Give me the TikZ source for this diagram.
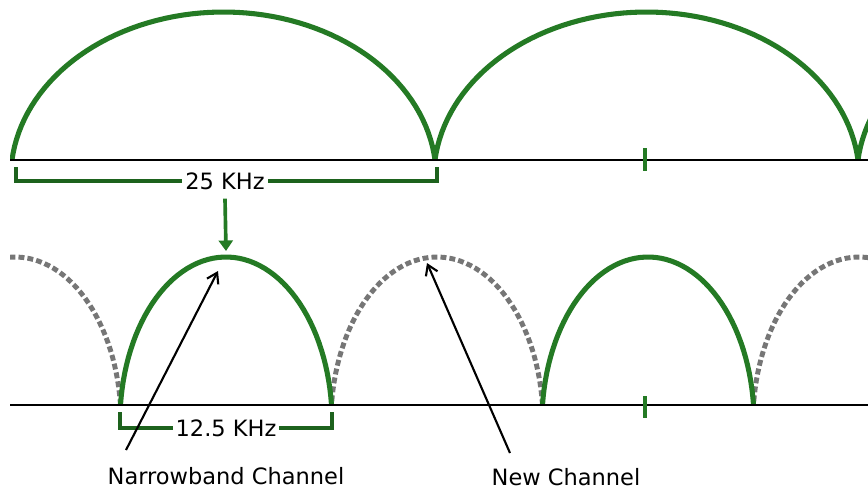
\documentclass[tikz,border=0pt]{standalone}
\usepackage{fontspec}
\setmainfont{DejaVu Sans}
\usepackage{xcolor}
\usetikzlibrary{arrows.meta}
\definecolor{chgreen}{RGB}{36,122,36}
\definecolor{chgrey}{RGB}{118,118,118}
\tikzset{
  chan/.style={chgreen,line width=3.6pt},
  oldchan/.style={chgrey,line width=3.5pt,dash pattern=on 4.2pt off 2.2pt},
  axisline/.style={black,line width=1.4pt},
  bracket/.style={chgreen!80!black,line width=2.2pt},
  lbl/.style={font=\fontsize{16}{18}\selectfont,inner sep=2pt},
  pointer/.style={line width=1.5pt,-{Straight Barb[length=7pt,width=9pt]}},
}

\begin{document}
\begin{tikzpicture}[x=0.025cm,y=-0.025cm]
  \useasboundingbox (0,0) rectangle (868,489);
  \begin{scope}
    \clip (10,0) rectangle (868,489);
    \foreach \c in {223.5,646.5,1069.5}{
      \draw[chan] plot[domain=6:174,samples=70] ({\c+212.7*cos(\x)},{177.3-165.3*sin(\x)});
    }
    \foreach \c in {15,437,859}{
      \draw[oldchan] plot[domain=6:174,samples=60] ({\c+106.1*cos(\x)},{422.3-165.3*sin(\x)});
    }
    \foreach \c in {226,648}{
      \draw[chan] plot[domain=6:174,samples=60] ({\c+106.1*cos(\x)},{422.3-165.3*sin(\x)});
    }
  \end{scope}
  \draw[axisline] (10,160) -- (868,160);
  \draw[axisline] (10,405) -- (868,405);
  \draw[chan,line width=3.2pt] (645,148) -- (645,171);
  \draw[chan,line width=3.2pt] (645,396) -- (645,418);

  \node[lbl] (wide) at (225,181) {25 KHz};
  \draw[bracket] (16,167) |- (wide.west);
  \draw[bracket] (437,167) |- (wide.east);
  \coordinate (narrowtop) at (226,251);
  \draw[chgreen,line width=2.6pt,-{Triangle[width=10pt,length=7.5pt]}] (wide.south) ++(0,6) -- (narrowtop);

  \node[lbl] (narrow) at (226,428) {12.5 KHz};
  \draw[bracket] (120,412) |- (narrow.west);
  \draw[bracket] (332,412) |- (narrow.east);

  \node[lbl] (nbch) at (226,476) {Narrowband Channel};
  \node[lbl] (newch) at (566,477) {New Channel};
  \coordinate (nbtail) at (126,450);
  \coordinate (nbtip) at (218,271);
  \coordinate (newtail) at (510,453);
  \coordinate (newtip) at (427,263);
  \draw[pointer] (nbtail) -- (nbtip);
  \draw[pointer] (newtail) -- (newtip);
\end{tikzpicture}
\end{document}
